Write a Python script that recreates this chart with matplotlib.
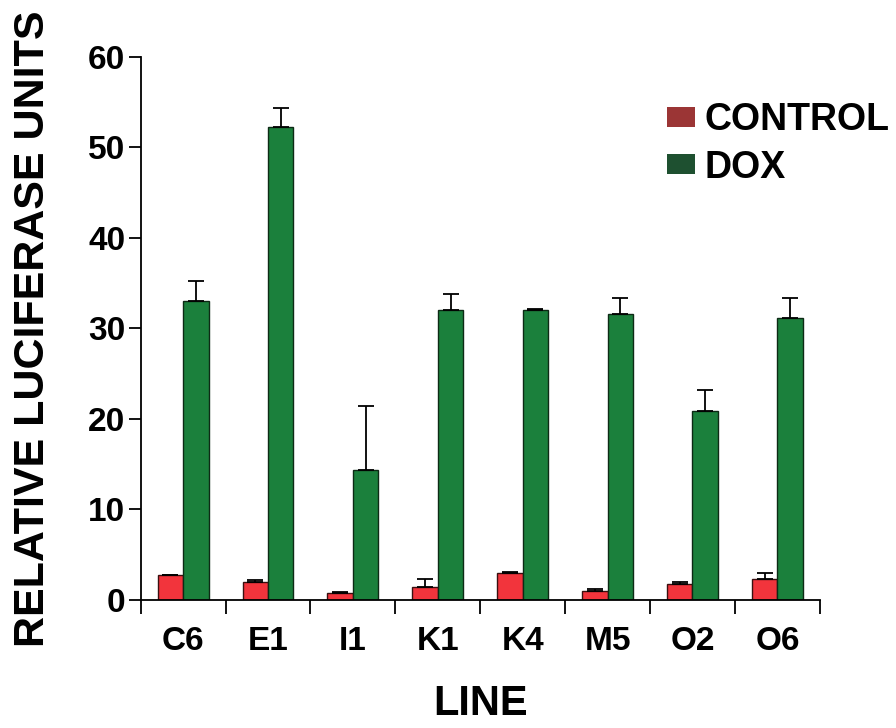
import matplotlib

matplotlib.use("Agg")
import matplotlib.pyplot as plt
import numpy as np
from matplotlib.patches import Patch

lines = ["C6", "E1", "I1", "K1", "K4", "M5", "O2", "O6"]
control = [2.7, 2.0, 0.8, 1.4, 3.0, 1.0, 1.8, 2.3]
control_err = [0.1, 0.15, 0.1, 0.9, 0.1, 0.15, 0.15, 0.7]
dox = [33.0, 52.2, 14.3, 32.0, 32.0, 31.6, 20.9, 31.1]
dox_err = [2.2, 2.1, 7.1, 1.8, 0.15, 1.8, 2.3, 2.2]

plt.rcParams["font.family"] = ["Liberation Sans", "DejaVu Sans"]
plt.rcParams["font.weight"] = "bold"

fig = plt.figure(figsize=(8.96, 7.28), dpi=100)
ax = fig.add_axes([0.157, 0.176, 0.758, 0.746])

x = np.arange(len(lines))
width = 0.3
err_kw = dict(ecolor="black", elinewidth=1.3, capsize=6, capthick=1.3)
ax.bar(x - width / 2, control, width, color="#f2343c", edgecolor="#3a1010", linewidth=1.0,
       yerr=[np.zeros(len(lines)), control_err], error_kw=err_kw)
ax.bar(x + width / 2, dox, width, color="#1b803c", edgecolor="#0d2a15", linewidth=1.0,
       yerr=[np.zeros(len(lines)), dox_err], error_kw=err_kw)

ax.set_xlim(-0.5, len(lines) - 0.5)
ax.set_ylim(0, 60)
ax.spines["top"].set_visible(False)
ax.spines["right"].set_visible(False)
ax.spines["left"].set_linewidth(1.3)
ax.spines["bottom"].set_linewidth(1.3)

ax.set_yticks(range(0, 61, 10))
ax.tick_params(axis="y", length=9, width=1.3, pad=2, labelsize=24)
ax.set_xticks(x)
ax.set_xticklabels(lines, fontsize=24, fontweight="bold")
ax.tick_params(axis="x", length=0, pad=19)
ax.set_xticks(np.arange(len(lines) + 1) - 0.5, minor=True)
ax.tick_params(axis="x", which="minor", length=10, width=1.3)
for lab in ax.get_yticklabels():
    lab.set_fontweight("bold")

ax.set_ylabel("RELATIVE LUCIFERASE UNITS", fontsize=31, fontweight="bold", labelpad=25)
ax.set_xlabel("LINE", fontsize=30, fontweight="bold", labelpad=19)

handles = [Patch(facecolor="#9b3535", label="CONTROL"), Patch(facecolor="#1e5030", label="DOX")]
leg = ax.legend(handles=handles, loc="upper left", bbox_to_anchor=(0.725, 0.978), frameon=False,
                handlelength=0.75, handleheight=0.45, handletextpad=0.25, labelspacing=0.3,
                prop={"size": 27, "weight": "bold"})

fig.savefig("out.png", dpi=100)
